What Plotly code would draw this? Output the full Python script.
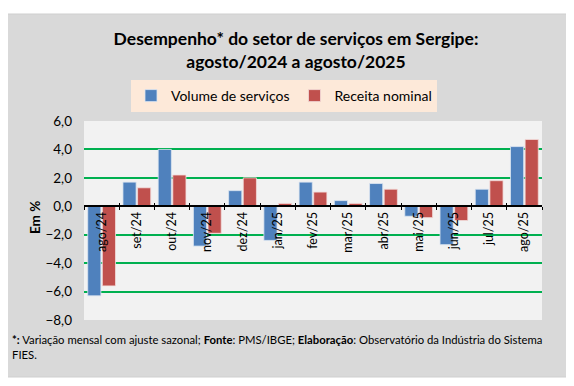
import plotly.graph_objects as go

categories = ["ago/24", "set/24", "out/24", "nov/24", "dez/24", "jan/25", "fev/25",
              "mar/25", "abr/25", "mai/25", "jun/25", "jul/25", "ago/25"]
volume = [-6.3, 1.7, 4.0, -2.8, 1.1, -2.4, 1.7, 0.4, 1.6, -0.7, -2.7, 1.2, 4.2]
receita = [-5.6, 1.3, 2.2, -1.9, 2.0, 0.2, 1.0, 0.2, 1.2, -0.8, -1.0, 1.8, 4.7]
y_ticks = [6, 4, 2, 0, -2, -4, -6, -8]
y_range = [-8, 6]

W, H = 574, 386
OFF = 8  # page body margin offset
# plot area in reference pixels: x 84..542, y 121..320
L = 84 - OFF
R = W - (542 - OFF)
T = 121 - OFF
B = H - (320 - OFF)
pw, ph = W - L - R, H - T - B

def px_x(x):
    return (x - OFF - L) / pw

def px_y(y):
    return (H - B - (y - OFF)) / ph

FONT = "Lato"

fig = go.Figure()
fig.add_trace(go.Bar(x=categories, y=volume, name="Volume de serviços",
                     marker=dict(color="#4f81bd", line=dict(color="#dce6f1", width=0.8))))
fig.add_trace(go.Bar(x=categories, y=receita, name="Receita nominal",
                     marker=dict(color="#c0504d", line=dict(color="#f2dcdb", width=0.8))))
# dummy trace for the inner-tick overlay axis
fig.add_trace(go.Scatter(x=categories, y=[None] * len(categories), xaxis="x2",
                         showlegend=False, hoverinfo="skip"))

zero_pos = (0 - y_range[0]) / (y_range[1] - y_range[0])

fig.update_layout(
    width=W, height=H,
    margin=dict(l=L, r=R, t=T, b=B),
    paper_bgcolor="white",
    plot_bgcolor="rgba(0,0,0,0)",
    separators=",.",
    font=dict(family=FONT, size=12, color="black"),
    barmode="group", bargap=0.17, bargroupgap=0.1,
    showlegend=True,
    legend=dict(orientation="h", x=px_x(284), xanchor="center", y=px_y(80), yanchor="top",
                bgcolor="#fde9d9", font=dict(size=14, family=FONT),
                itemwidth=30, tracegroupgap=0),
    title=dict(text="<b>Desempenho* do setor de serviços em Sergipe:<br>agosto/2024 a agosto/2025</b>",
               x=(296 - OFF) / W, xanchor="center", y=1 - 37 / H, yanchor="middle",
               font=dict(size=17.5, family=FONT, color="black")),
    xaxis=dict(type="category", anchor="free", position=zero_pos, automargin=False,
               tickson="boundaries", ticks="outside", ticklen=3, tickwidth=1.2, tickcolor="black",
               showline=True, linecolor="black", linewidth=1.5,
               showgrid=False, tickangle=-90, tickfont=dict(size=12.5, family=FONT),
               range=[-0.5, len(categories) - 0.5]),
    xaxis2=dict(type="category", overlaying="x", matches="x", anchor="free", position=zero_pos,
                tickson="boundaries", ticks="inside", ticklen=3, tickwidth=1.2, tickcolor="black",
                showticklabels=False, showline=False, showgrid=False, automargin=False),
    yaxis=dict(range=y_range, tickvals=y_ticks, tickformat=".1f", automargin=False,
               showgrid=True, gridcolor="#00b050", gridwidth=1.5,
               zeroline=False, showline=False, ticks="", ticklabelstandoff=11,
               tickfont=dict(size=13.5, family=FONT)),
    shapes=[
        dict(type="rect", xref="paper", yref="paper", layer="below",
             x0=px_x(2), x1=px_x(570), y0=px_y(377), y1=px_y(14),
             fillcolor="#d9d9d9", line=dict(color="#cfcfcf", width=1)),
        dict(type="rect", xref="paper", yref="paper", layer="below",
             x0=0, x1=1, y0=0, y1=1, fillcolor="#f2f2f2", line=dict(width=0)),
    ],
    annotations=[
        dict(text="<b>Em %</b>", xref="paper", yref="paper", x=px_x(35), y=px_y(218),
             textangle=-90, showarrow=False, font=dict(size=13.5, family=FONT),
             xanchor="center", yanchor="middle"),
        dict(text="<b>*:</b> Variação mensal com ajuste sazonal; <b>Fonte</b>: PMS/IBGE; "
                  "<b>Elaboração</b>: Observatório da Indústria do Sistema<br>FIES.",
             xref="paper", yref="paper", x=px_x(10), y=px_y(331), xanchor="left", yanchor="top",
             align="left", showarrow=False, font=dict(size=11.3, family=FONT)),
    ],
)

fig.write_html("out.html")
